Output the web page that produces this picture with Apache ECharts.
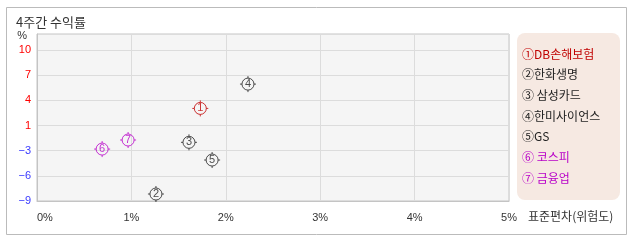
<!DOCTYPE html>
<html><head><meta charset="utf-8">
<script src="https://cdn.jsdelivr.net/npm/echarts@6/dist/echarts.min.js"></script>
<style>html,body{margin:0;padding:0;background:#fff}#c{width:638px;height:242px}</style>
</head><body><div id="c"></div>
<script>
var names = ['①DB손해보험', '②한화생명', '③ 삼성카드', '④한미사이언스', '⑤GS', '⑥ 코스피', '⑦ 금융업'];
var marks = ['1', '2', '3', '4', '5', '6', '7'];
var risk = [1.73, 1.26, 1.61, 2.235, 1.855, 0.69, 0.965];      // 표준편차 (%)
var ret = [2.66, -8.12, -1.61, 5.72, -3.84, -2.46, -1.32];      // 4주간 수익률 (%)
var colors = ['#c00000', '#222222', '#222222', '#222222', '#222222', '#b800c8', '#b800c8'];
var xTickLabels = ['0%', '1%', '2%', '3%', '4%', '5%'];
var yTickLabels = ['\u22129', '\u22126', '\u22123', '1', '4', '7', '10'];

var FONT = "'Liberation Sans', 'Noto Sans CJK KR', sans-serif";
var symbolPath = 'path://M8,0L8,2M8,14L8,16M0,8L2,8M14,8L16,8M14,8A6,6 0 1 1 2,8A6,6 0 1 1 14,8Z';

var series = names.map(function (n, i) {
  return {
    type: 'scatter',
    name: n,
    data: [[risk[i], ret[i]]],
    symbol: symbolPath,
    symbolSize: 16,
    itemStyle: { color: 'rgba(0,0,0,0)', borderColor: colors[i], borderWidth: 1 },
    label: { show: true, position: 'inside', formatter: marks[i], color: colors[i], fontSize: 11, fontFamily: FONT },
    emphasis: { disabled: true }
  };
});

var chart = echarts.init(document.getElementById('c'), null, { renderer: 'canvas' });
chart.setOption({
  animation: false,
  textStyle: { fontFamily: FONT },
  graphic: [
    { type: 'rect', shape: { x: 6.5, y: 7.5, width: 620, height: 227 }, style: { fill: 'none', stroke: '#bbbbbb', lineWidth: 1 }, z: -10 },
    { type: 'rect', shape: { x: 517, y: 33, width: 103, height: 167, r: 8 }, style: { fill: '#f6e9e2' }, z: -5 },
    { type: 'text', left: 16, top: 16, style: { text: '4주간 수익률', fill: '#333', font: "13px 'Noto Sans CJK KR', sans-serif" } }
  ],
  legend: {
    orient: 'vertical',
    left: 517, top: 48,
    padding: 0,
    icon: 'none',
    itemWidth: 0, itemHeight: 12, itemGap: 8.7,
    selectedMode: false,
    data: names.map(function (n, i) {
      return { name: n, textStyle: { color: colors[i], fontSize: 12, fontFamily: "'Noto Sans CJK KR', sans-serif" } };
    })
  },
  grid: { left: 37, top: 34, right: 129, bottom: 41, show: true, backgroundColor: '#f5f5f5', borderColor: '#c4c4c4', borderWidth: 1, containLabel: false },
  xAxis: {
    type: 'value', min: 0, max: 5, interval: 1,
    name: '표준편차(위험도)',
    nameLocation: 'end', nameGap: 19,
    nameTextStyle: { color: '#333', fontSize: 12, verticalAlign: 'top', padding: [9, 0, 0, 0], fontFamily: "'Noto Sans CJK KR', sans-serif" },
    axisLine: { show: true, onZero: false, lineStyle: { color: '#c4c4c4' } },
    axisTick: { show: false },
    splitLine: { show: true, lineStyle: { color: '#dcdcdc' } },
    axisLabel: {
      margin: 11, color: '#333', fontSize: 11, alignMinLabel: 'left',
      formatter: function (v, i) { return xTickLabels[i] || ''; }
    }
  },
  yAxis: {
    type: 'value', min: -9, max: 12.03, interval: 19 / 6,
    name: '%', nameLocation: 'end', nameGap: -7,
    nameTextStyle: { color: '#333', fontSize: 11, align: 'right', padding: [0, 10, 0, 0] },
    axisLine: { show: true, onZero: false, lineStyle: { color: '#c4c4c4' } },
    axisTick: { show: false },
    splitLine: { show: true, lineStyle: { color: '#dcdcdc' } },
    axisLabel: {
      margin: 6, fontSize: 11, showMaxLabel: false,
      formatter: function (v, i) { return yTickLabels[i] || ''; },
      color: function (v, i) { return i >= 3 ? '#ff0000' : '#3a3aff'; }
    }
  },
  series: series
});
</script>
</body></html>
